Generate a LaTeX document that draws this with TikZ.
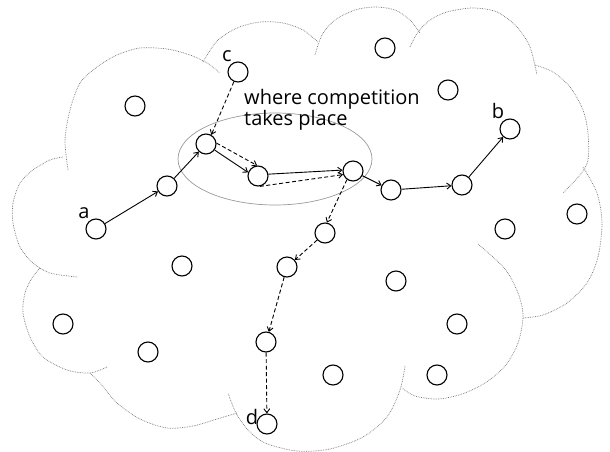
\documentclass[tikz,border=0pt]{standalone}
\usepackage{fontspec}
\setmainfont{Open Sans}
\usetikzlibrary{arrows.meta}
\begin{document}
\begin{tikzpicture}[x=1pt,y=-1pt,
  pt/.style={circle,draw=black,line width=1.1pt,minimum size=20pt,inner sep=0pt},
  lab/.style={font=\fontsize{20}{21}\selectfont,inner sep=0pt},
  cloudarc/.style={draw=black!55,densely dotted,line width=0.7pt},
  conn/.style={line width=0.9pt,-{Straight Barb[length=4pt,width=6pt]}},
  dconn/.style={conn,dash pattern=on 4pt off 2.5pt}]
\useasboundingbox (0,0) rectangle (610,452);
% cloud outline
\draw[cloudarc] plot[smooth] coordinates {(68,170) (65,140) (70,110) (80,83) (97,67) (117,55) (140,48) (167,49) (190,55) (207,63) (220,73)};
\draw[cloudarc] plot[smooth] coordinates {(203,62) (217,41) (237,28) (260,22) (283,23) (303,30) (318,42)};
\draw[cloudarc] plot[smooth] coordinates {(315,55) (322,35) (335,20) (355,10) (375,7) (395,10) (410,20) (420,33)};
\draw[cloudarc] plot[smooth] coordinates {(410,47) (418,32) (430,20) (447,12) (473,8) (497,12) (517,27) (530,47) (537,75)};
\draw[cloudarc] plot[smooth] coordinates {(535,65) (553,72) (570,87) (583,110) (588,133) (588,160) (580,175) (563,193)};
\draw[cloudarc] plot[smooth] coordinates {(583,167) (597,193) (602,223) (598,257) (587,283) (567,303) (543,315) (523,318)};
\draw[cloudarc] plot[smooth] coordinates {(478,244) (505,269) (518,293) (523,316) (518,343) (505,366) (485,383) (462,394) (438,399) (415,396) (402,388)};
\draw[cloudarc] plot[smooth] coordinates {(405,366) (400,390) (387,417) (363,437) (330,449) (297,451) (265,443) (248,430) (236,413) (228,393)};
\draw[cloudarc] plot[smooth] coordinates {(90,373) (100,383) (117,403) (140,419) (167,428) (193,426) (217,419) (237,413)};
\draw[cloudarc] plot[smooth] coordinates {(107,367) (90,373) (67,370) (43,357) (30,337) (23,313) (25,293) (32,278) (40,268)};
\draw[cloudarc] plot[smooth] coordinates {(77,277) (50,273) (33,263) (20,247) (13,223) (13,203) (20,183) (33,170) (50,160) (63,157)};
% competition region
\draw[gray!80,line width=0.7pt] (275,159) ellipse [x radius=97, y radius=46];
\node[lab,anchor=base west,align=left] (txt) at (244,125) {where competition\\takes place};
% nodes
\node[pt] (a) at (96,229) {};
\node[pt] (n1) at (167,186) {};
\node[pt] (n2) at (206,144) {};
\node[pt] (n3) at (258,176) {};
\node[pt] (n4) at (353,171) {};
\node[pt] (n5) at (391,190) {};
\node[pt] (n6) at (462,185) {};
\node[pt] (b) at (510,129) {};
\node[pt] (c) at (238,72) {};
\node[pt] (n7) at (325,233) {};
\node[pt] (n8) at (287,267) {};
\node[pt] (n9) at (266,342) {};
\node[pt] (d) at (267,424) {};
\node[pt] (o1) at (135,106) {};
\node[pt] (o2) at (385,48) {};
\node[pt] (o3) at (448,90) {};
\node[pt] (o4) at (577,214) {};
\node[pt] (o5) at (505,229) {};
\node[pt] (o6) at (182,266) {};
\node[pt] (o7) at (396,281) {};
\node[pt] (o8) at (63,324) {};
\node[pt] (o9) at (148,352) {};
\node[pt] (o10) at (457,324) {};
\node[pt] (o11) at (333,375) {};
\node[pt] (o12) at (437,375) {};
% labels
\node[lab] (la) at (84,213) {a};
\node[lab] (lb) at (498,111) {b};
\node[lab] (lc) at (227,56) {c};
\node[lab] (ld) at (252,417) {d};
% solid path a -> b
\draw[conn] (a) -- (n1);
\draw[conn] (n1) -- (n2);
\draw[conn] (n2.-35) -- (n3.160);
\draw[conn] (n3.10) -- (n4.175);
\draw[conn] (n4) -- (n5);
\draw[conn] (n5) -- (n6);
\draw[conn] (n6) -- (b);
% dashed path c -> d
\draw[dconn] (c) -- (n2.60);
\draw[dconn] (n2.5) -- (n3.95);
\draw[dconn] (n3.-80) -- (n4.200);
\draw[dconn] (n4.235) -- (n7.80);
\draw[dconn] (n7) -- (n8);
\draw[dconn] (n8) -- (n9);
\draw[dconn] (n9) -- (d);
\end{tikzpicture}
\end{document}
